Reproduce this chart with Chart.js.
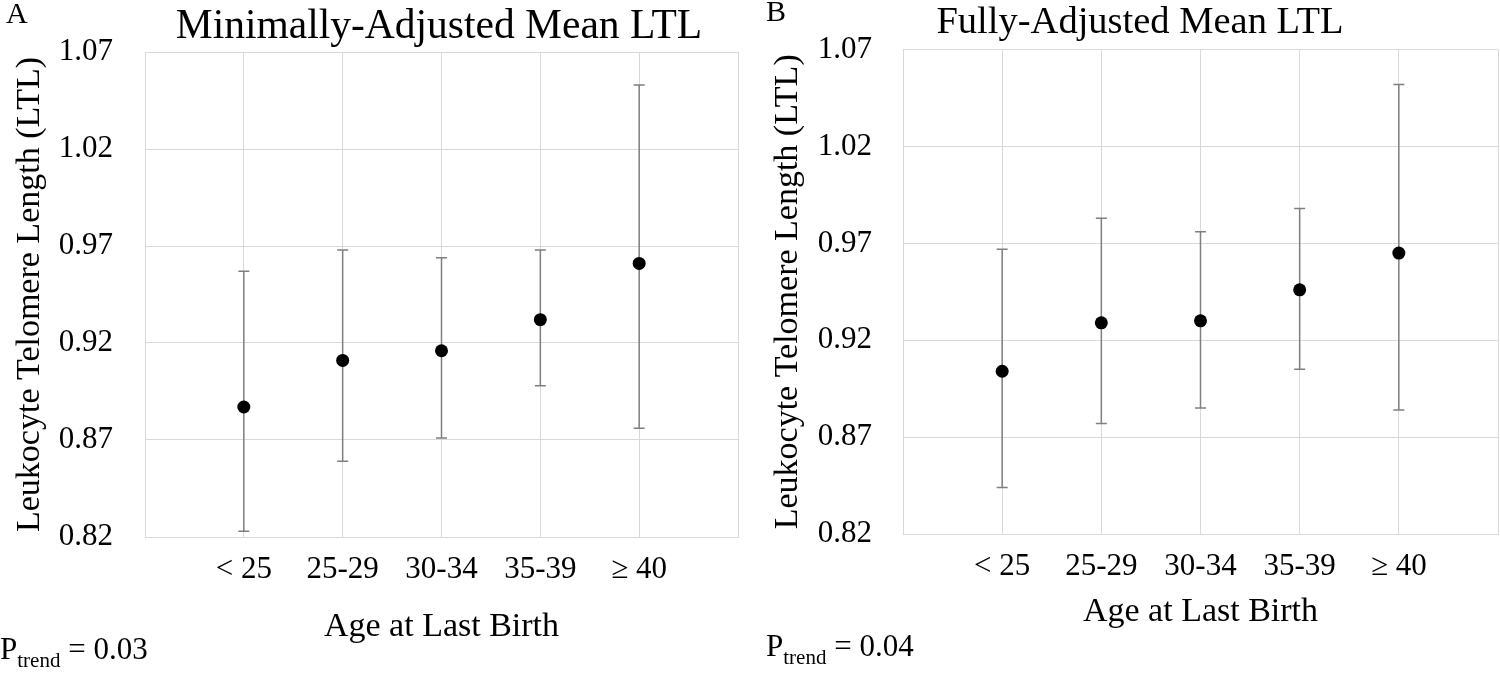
<!DOCTYPE html>
<html lang="en">
<head>
    <meta charset="UTF-8">
    <title>Mean LTL by Age at Last Birth</title>
    <script src="https://cdn.jsdelivr.net/npm/chart.js"></script>
    <style>
        body {
            margin: 0;
            background: white;
            font-family: "Liberation Serif", "Times New Roman", serif;
            color: black;
        }
        #wrap {
            position: relative;
            width: 1500px;
            height: 675px;
            overflow: hidden;
        }
        canvas {
            position: absolute;
            top: 0;
        }
        .txt {
            position: absolute;
            white-space: nowrap;
            line-height: 1;
        }
        .title {
            transform: translate(-50%, -50%);
        }
        .letter {
            font-size: 30px;
        }
        .ptrend {
            font-size: 31px;
        }
        .ptrend sub {
            font-size: 21px;
            vertical-align: -8px;
        }
    </style>
</head>
<body>
<div id="wrap">
    <canvas id="chartA" width="750" height="675" style="left:0"></canvas>
    <canvas id="chartB" width="750" height="675" style="left:750px"></canvas>

    <div class="txt letter" style="left:6px; top:-2px">A</div>
    <div class="txt letter" style="left:766px; top:-4px">B</div>
    <div class="txt title" style="left:439px; top:25px; font-size:41.5px">Minimally-Adjusted Mean LTL</div>
    <div class="txt title" style="left:1140px; top:20px; font-size:38.5px">Fully-Adjusted Mean LTL</div>
    <div class="txt ptrend" style="left:0px; top:633px">P<sub>trend</sub> = 0.03</div>
    <div class="txt ptrend" style="left:766px; top:630px">P<sub>trend</sub> = 0.04</div>
</div>

<script>
    // age groups
    var categories = ['< 25', '25-29', '30-34', '35-39', '\u2265 40'];

    // minimally-adjusted
    var minMean  = [0.887, 0.911, 0.916, 0.932, 0.961];
    var minLower = [0.823, 0.859, 0.871, 0.898, 0.876];
    var minUpper = [0.957, 0.968, 0.964, 0.968, 1.053];

    // fully-adjusted
    var fullMean  = [0.904, 0.929, 0.930, 0.946, 0.965];
    var fullLower = [0.844, 0.877, 0.885, 0.905, 0.884];
    var fullUpper = [0.967, 0.983, 0.976, 0.988, 1.052];

    var yTicks = [0.82, 0.87, 0.92, 0.97, 1.02, 1.07];

    var gridColor = '#d9d9d9';
    var serif = '"Liberation Serif", "Times New Roman", serif';

    // error bars with caps, drawn under the points
    var errorBars = {
        id: 'errorBars',
        beforeDatasetsDraw: function (chart, args, opts) {
            var ctx = chart.ctx;
            var xs = chart.scales.x, ys = chart.scales.y;
            ctx.save();
            ctx.strokeStyle = '#7f7f7f';
            ctx.lineWidth = 1.5;
            for (var i = 0; i < opts.lower.length; i++) {
                var px = xs.getPixelForValue(i + 1);
                var top = ys.getPixelForValue(opts.upper[i]);
                var bot = ys.getPixelForValue(opts.lower[i]);
                ctx.beginPath();
                ctx.moveTo(px, top);
                ctx.lineTo(px, bot);
                ctx.moveTo(px - 5.5, top);
                ctx.lineTo(px + 5.5, top);
                ctx.moveTo(px - 5.5, bot);
                ctx.lineTo(px + 5.5, bot);
                ctx.stroke();
            }
            ctx.restore();
        }
    };

    function makeChart(id, mean, lower, upper, lay) {
        var pts = mean.map(function (v, i) { return { x: i + 1, y: v }; });
        return new Chart(document.getElementById(id), {
            type: 'scatter',
            data: {
                datasets: [{
                    data: pts,
                    pointRadius: 6.5,
                    pointHoverRadius: 6.5,
                    backgroundColor: 'black',
                    borderWidth: 0
                }]
            },
            options: {
                responsive: false,
                animation: false,
                devicePixelRatio: 1,
                layout: { padding: lay.padding, autoPadding: false },
                plugins: {
                    legend: { display: false },
                    tooltip: { enabled: false },
                    errorBars: { lower: lower, upper: upper }
                },
                scales: {
                    x: {
                        type: 'linear',
                        min: 0,
                        max: 6,
                        afterBuildTicks: function (scale) {
                            scale.ticks = [0, 1, 2, 3, 4, 5, 6].map(function (v) { return { value: v }; });
                        },
                        afterFit: function (scale) {
                            scale.height = lay.xHeight;
                            // tick padding otherwise leaks into the side padding
                            scale.paddingLeft = 0;
                            scale.paddingRight = 0;
                        },
                        ticks: {
                            callback: function (v) { return categories[v - 1] || ''; },
                            font: { family: serif, size: 31 },
                            color: 'black',
                            padding: 14,
                            maxRotation: 0,
                            autoSkip: false
                        },
                        grid: { color: gridColor, drawTicks: false },
                        border: { color: gridColor },
                        title: {
                            display: true,
                            text: 'Age at Last Birth',
                            font: { family: serif, size: 34 },
                            color: 'black',
                            padding: 0
                        }
                    },
                    y: {
                        min: 0.82,
                        max: 1.07,
                        afterBuildTicks: function (scale) {
                            scale.ticks = yTicks.map(function (v) { return { value: v }; });
                        },
                        afterFit: function (scale) { scale.width = lay.yWidth; },
                        ticks: {
                            callback: function (v) { return v.toFixed(2); },
                            font: { family: serif, size: 31 },
                            color: 'black',
                            padding: lay.yPad
                        },
                        grid: { color: gridColor, drawTicks: false },
                        border: { color: gridColor },
                        title: {
                            display: true,
                            text: 'Leukocyte Telomere Length (LTL)',
                            font: { family: serif, size: 34 },
                            color: 'black',
                            padding: 0
                        }
                    }
                }
            },
            plugins: [errorBars]
        });
    }

    makeChart('chartA', minMean, minLower, minUpper, {
        padding: { left: 10, right: 12, top: 52, bottom: 28 },
        xHeight: 110,
        yWidth: 135,
        yPad: 32
    });

    makeChart('chartB', fullMean, fullLower, fullUpper, {
        padding: { left: 18, right: 2, top: 45, bottom: 43 },
        xHeight: 98,
        yWidth: 135,
        yPad: 31
    });
</script>
</body>
</html>
